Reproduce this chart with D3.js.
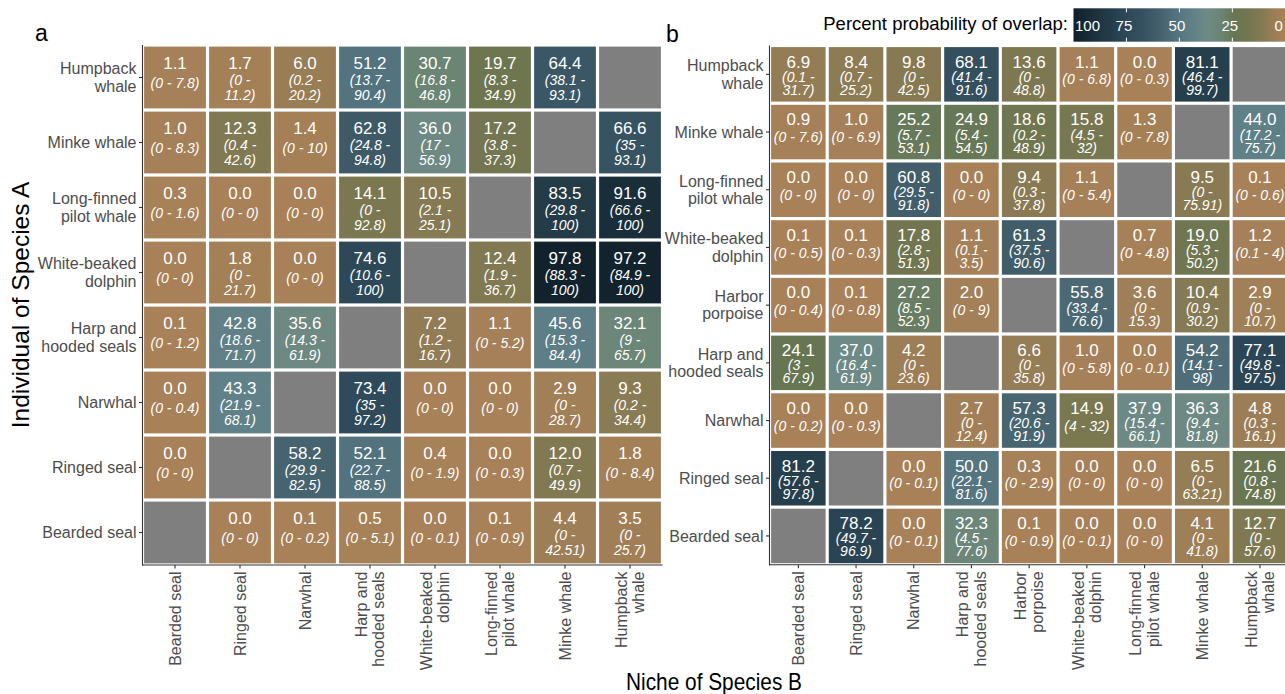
<!DOCTYPE html>
<html>
<head>
<meta charset="utf-8">
<script src="https://cdn.jsdelivr.net/npm/d3@7"></script>
<style>
  html, body { margin: 0; padding: 0; background: #fff; }
  svg { display: block; font-family: "Liberation Sans", Arial, Helvetica, sans-serif; }
</style>
</head>
<body>
<svg id="chart" width="1285" height="694"></svg>
<script>
// ---------- Panel a: species order and overlap values ----------
const colsA = ["Bearded seal", "Ringed seal", "Narwhal", "Harp and\nhooded seals",
  "White-beaked\ndolphin", "Long-finned\npilot whale", "Minke whale", "Humpback\nwhale"];
const rowsA = ["Humpback\nwhale", "Minke whale", "Long-finned\npilot whale", "White-beaked\ndolphin",
  "Harp and\nhooded seals", "Narwhal", "Ringed seal", "Bearded seal"];
const valuesA = [
  [1.1, 1.7, 6.0, 51.2, 30.7, 19.7, 64.4, null],
  [1.0, 12.3, 1.4, 62.8, 36.0, 17.2, null, 66.6],
  [0.3, 0.0, 0.0, 14.1, 10.5, null, 83.5, 91.6],
  [0.0, 1.8, 0.0, 74.6, null, 12.4, 97.8, 97.2],
  [0.1, 42.8, 35.6, null, 7.2, 1.1, 45.6, 32.1],
  [0.0, 43.3, null, 73.4, 0.0, 0.0, 2.9, 9.3],
  [0.0, null, 58.2, 52.1, 0.4, 0.0, 12.0, 1.8],
  [null, 0.0, 0.1, 0.5, 0.0, 0.1, 4.4, 3.5]
];
const ciA = [
  ["0 - 7.8", "0 - 11.2", "0.2 - 20.2", "13.7 - 90.4", "16.8 - 46.8", "8.3 - 34.9", "38.1 - 93.1", null],
  ["0 - 8.3", "0.4 - 42.6", "0 - 10", "24.8 - 94.8", "17 - 56.9", "3.8 - 37.3", null, "35 - 93.1"],
  ["0 - 1.6", "0 - 0", "0 - 0", "0 - 92.8", "2.1 - 25.1", null, "29.8 - 100", "66.6 - 100"],
  ["0 - 0", "0 - 21.7", "0 - 0", "10.6 - 100", null, "1.9 - 36.7", "88.3 - 100", "84.9 - 100"],
  ["0 - 1.2", "18.6 - 71.7", "14.3 - 61.9", null, "1.2 - 16.7", "0 - 5.2", "15.3 - 84.4", "9 - 65.7"],
  ["0 - 0.4", "21.9 - 68.1", null, "35 - 97.2", "0 - 0", "0 - 0", "0 - 28.7", "0.2 - 34.4"],
  ["0 - 0", null, "29.9 - 82.5", "22.7 - 88.5", "0 - 1.9", "0 - 0.3", "0.7 - 49.9", "0 - 8.4"],
  [null, "0 - 0", "0 - 0.2", "0 - 5.1", "0 - 0.1", "0 - 0.9", "0 - 42.51", "0 - 25.7"]
];

// ---------- Panel b: species order and overlap values ----------
const colsB = ["Bearded seal", "Ringed seal", "Narwhal", "Harp and\nhooded seals", "Harbor\nporpoise",
  "White-beaked\ndolphin", "Long-finned\npilot whale", "Minke whale", "Humpback\nwhale"];
const rowsB = ["Humpback\nwhale", "Minke whale", "Long-finned\npilot whale", "White-beaked\ndolphin",
  "Harbor\nporpoise", "Harp and\nhooded seals", "Narwhal", "Ringed seal", "Bearded seal"];
const valuesB = [
  [6.9, 8.4, 9.8, 68.1, 13.6, 1.1, 0.0, 81.1, null],
  [0.9, 1.0, 25.2, 24.9, 18.6, 15.8, 1.3, null, 44.0],
  [0.0, 0.0, 60.8, 0.0, 9.4, 1.1, null, 9.5, 0.1],
  [0.1, 0.1, 17.8, 1.1, 61.3, null, 0.7, 19.0, 1.2],
  [0.0, 0.1, 27.2, 2.0, null, 55.8, 3.6, 10.4, 2.9],
  [24.1, 37.0, 4.2, null, 6.6, 1.0, 0.0, 54.2, 77.1],
  [0.0, 0.0, null, 2.7, 57.3, 14.9, 37.9, 36.3, 4.8],
  [81.2, null, 0.0, 50.0, 0.3, 0.0, 0.0, 6.5, 21.6],
  [null, 78.2, 0.0, 32.3, 0.1, 0.0, 0.0, 4.1, 12.7]
];
const ciB = [
  ["0.1 - 31.7", "0.7 - 25.2", "0 - 42.5", "41.4 - 91.6", "0 - 48.8", "0 - 6.8", "0 - 0.3", "46.4 - 99.7", null],
  ["0 - 7.6", "0 - 6.9", "5.7 - 53.1", "5.4 - 54.5", "0.2 - 48.9", "4.5 - 32", "0 - 7.8", null, "17.2 - 75.7"],
  ["0 - 0", "0 - 0", "29.5 - 91.8", "0 - 0", "0.3 - 37.8", "0 - 5.4", null, "0 - 75.91", "0 - 0.6"],
  ["0 - 0.5", "0 - 0.3", "2.8 - 51.3", "0.1 - 3.5", "37.5 - 90.6", null, "0 - 4.8", "5.3 - 50.2", "0.1 - 4"],
  ["0 - 0.4", "0 - 0.8", "8.5 - 52.3", "0 - 9", null, "33.4 - 76.6", "0 - 15.3", "0.9 - 30.2", "0 - 10.7"],
  ["3 - 67.9", "16.4 - 61.9", "0 - 23.6", null, "0 - 35.8", "0 - 5.8", "0 - 0.1", "14.1 - 98", "49.8 - 97.5"],
  ["0 - 0.2", "0 - 0.3", null, "0 - 12.4", "20.6 - 91.9", "4 - 32", "15.4 - 66.1", "9.4 - 81.8", "0.3 - 16.1"],
  ["57.6 - 97.8", null, "0 - 0.1", "22.1 - 81.6", "0 - 2.9", "0 - 0", "0 - 0", "0 - 63.21", "0.8 - 74.8"],
  [null, "49.7 - 96.9", "0 - 0.1", "4.5 - 77.6", "0 - 0.9", "0 - 0.1", "0 - 0", "0 - 41.8", "0 - 57.6"]
];

// ---------- colour scale (percent probability of overlap) ----------
const colorStops = [0, 5, 10, 18, 24, 30, 37, 45, 52, 60, 68, 77, 84, 92, 100];
const colorValues = ["#a88158", "#9c7e56", "#867a53", "#717650", "#667651", "#6b8472", "#6e8a86",
  "#5e7e88", "#52727e", "#435f6c", "#34505f", "#2b4656", "#233a47", "#192d39", "#0f1e28"];
const legendTicks = [100, 75, 50, 25, 0];
const naColor = "#7f7f7f";

const color = d3.scaleLinear().domain(colorStops).range(colorValues).interpolate(d3.interpolateRgb);

const svg = d3.select("#chart");
const axisColor = "#333333";
const tickLabelColor = "#4d4d4d";

// split a confidence interval into one or two lines
function ciLines(s) {
  const full = "(" + s + ")";
  if (full.length <= 9) return [full];
  const parts = s.split(" - ");
  return ["(" + parts[0] + " -", parts[1] + ")"];
}

function drawPanel(opts) {
  const { rows, cols, values, ci, x0, y0, cell } = opts;
  const n = rows.length;
  const x = d3.scaleBand().domain(cols).range([x0, x0 + cols.length * cell]);
  const y = d3.scaleBand().domain(rows).range([y0, y0 + n * cell]);
  const g = svg.append("g");

  const cells = [];
  rows.forEach((r, i) => cols.forEach((c, j) => {
    cells.push({ row: r, col: c, v: values[i][j], ci: ci[i][j] });
  }));

  const inset = 1.6;
  g.selectAll("rect.tile").data(cells).join("rect")
    .attr("class", "tile")
    .attr("x", d => x(d.col) + inset)
    .attr("y", d => y(d.row) + inset)
    .attr("width", x.bandwidth() - 2 * inset)
    .attr("height", y.bandwidth() - 2 * inset)
    .attr("fill", d => d.v == null ? naColor : color(d.v));

  const labelled = cells.filter(d => d.v != null);
  const bw = x.bandwidth();
  const bh = y.bandwidth();
  const lab = g.selectAll("g.lab").data(labelled).join("g")
    .attr("class", "lab")
    .attr("transform", d => `translate(${x(d.col) + bw / 2},${y(d.row)})`);

  lab.append("text")
    .attr("text-anchor", "middle")
    .attr("y", bh * 0.278 + 6.1)
    .attr("fill", "#ffffff")
    .style("font-size", "17px")
    .text(d => d.v.toFixed(1));

  lab.each(function (d) {
    const lines = ciLines(d.ci);
    const pos = lines.length === 1 ? [0.59] : [0.545, 0.77];
    const sel = d3.select(this);
    lines.forEach((t, k) => {
      sel.append("text")
        .attr("text-anchor", "middle")
        .attr("y", bh * pos[k] + 4.9)
        .attr("fill", "#ffffff")
        .style("font-size", "14px")
        .style("font-style", "italic")
        .text(t);
    });
  });

  // axis lines
  const xEnd = x0 + cols.length * cell;
  const yEnd = y0 + n * cell;
  g.append("line").attr("x1", x0).attr("x2", x0).attr("y1", y0).attr("y2", yEnd + 0.5)
    .attr("stroke", axisColor).attr("stroke-width", 1.1);
  g.append("line").attr("x1", x0 - 0.5).attr("x2", xEnd).attr("y1", yEnd).attr("y2", yEnd)
    .attr("stroke", axisColor).attr("stroke-width", 1.1);

  // y ticks and labels
  rows.forEach(r => {
    const cy = y(r) + bh / 2;
    g.append("line").attr("x1", x0 - 3.5).attr("x2", x0).attr("y1", cy).attr("y2", cy)
      .attr("stroke", axisColor).attr("stroke-width", 1.1);
    const lines = r.split("\n");
    const lh = 17.4;
    lines.forEach((t, k) => {
      g.append("text")
        .attr("x", x0 - 6)
        .attr("y", cy + (k - (lines.length - 1) / 2) * lh + 5.6)
        .attr("text-anchor", "end")
        .attr("fill", tickLabelColor)
        .style("font-size", "16px")
        .text(t);
    });
  });

  // x ticks and rotated labels
  cols.forEach(c => {
    const cx = x(c) + bw / 2;
    g.append("line").attr("x1", cx).attr("x2", cx).attr("y1", yEnd).attr("y2", yEnd + 3.5)
      .attr("stroke", axisColor).attr("stroke-width", 1.1);
    const lines = c.split("\n");
    const lh = 17.4;
    lines.forEach((t, k) => {
      const off = (k - (lines.length - 1) / 2) * lh + 5.6;
      g.append("text")
        .attr("transform", `translate(${cx + off},${yEnd + 6.5}) rotate(-90)`)
        .attr("text-anchor", "end")
        .attr("fill", tickLabelColor)
        .style("font-size", "16px")
        .text(t);
    });
  });
}

drawPanel({ rows: rowsA, cols: colsA, values: valuesA, ci: ciA, x0: 142.5, y0: 45, cell: 65 });
drawPanel({ rows: rowsB, cols: colsB, values: valuesB, ci: ciB, x0: 769.5, y0: 45.5, cell: 57.7 });

// panel letters
svg.append("text").attr("x", 35).attr("y", 41).style("font-size", "23px").attr("fill", "#000").text("a");
svg.append("text").attr("x", 666).attr("y", 41.5).style("font-size", "23px").attr("fill", "#000").text("b");

// axis titles
svg.append("text")
  .attr("transform", "translate(29,305) rotate(-90)")
  .attr("text-anchor", "middle")
  .style("font-size", "24.5px")
  .attr("fill", "#000")
  .text("Individual of Species A");

svg.append("text")
  .attr("x", 626).attr("y", 690)
  .attr("textLength", 176)
  .attr("lengthAdjust", "spacingAndGlyphs")
  .style("font-size", "24px")
  .attr("fill", "#000")
  .text("Niche of Species B");

// ---------- colour bar legend (100 on the left, 0 on the right) ----------
const lx = d3.scaleLinear().domain([100, 0]).range([1073.5, 1285.3]);
const barTop = 8.3, barBottom = 41.7;
const defs = svg.append("defs");
const grad = defs.append("linearGradient").attr("id", "overlapGrad")
  .attr("x1", "0%").attr("x2", "100%").attr("y1", "0%").attr("y2", "0%");
d3.range(100, -1, -2).forEach(v => {
  grad.append("stop").attr("offset", (100 - v) + "%").attr("stop-color", color(v));
});
svg.append("rect")
  .attr("x", lx(100)).attr("y", barTop)
  .attr("width", lx(0) - lx(100)).attr("height", barBottom - barTop)
  .attr("fill", "url(#overlapGrad)");

legendTicks.forEach(t => {
  if (t !== 100 && t !== 0) {
    svg.append("line").attr("x1", lx(t)).attr("x2", lx(t)).attr("y1", barTop).attr("y2", barTop + 4)
      .attr("stroke", "#ffffff").attr("stroke-width", 1);
    svg.append("line").attr("x1", lx(t)).attr("x2", lx(t)).attr("y1", barBottom - 4).attr("y2", barBottom)
      .attr("stroke", "#ffffff").attr("stroke-width", 1);
  }
  let anchor = "middle", xx = lx(t) - 2.5;
  if (t === 100) { anchor = "start"; xx = lx(t) + 1.5; }
  if (t === 0) { anchor = "end"; xx = lx(t) - 2.5; }
  svg.append("text")
    .attr("x", xx).attr("y", 30.5)
    .attr("text-anchor", anchor)
    .attr("fill", "#ffffff")
    .style("font-size", "15px")
    .text(t);
});

svg.append("text")
  .attr("x", 1068).attr("y", 30)
  .attr("text-anchor", "end")
  .style("font-size", "18.5px")
  .attr("fill", "#000")
  .text("Percent probability of overlap:");
</script>
</body>
</html>
